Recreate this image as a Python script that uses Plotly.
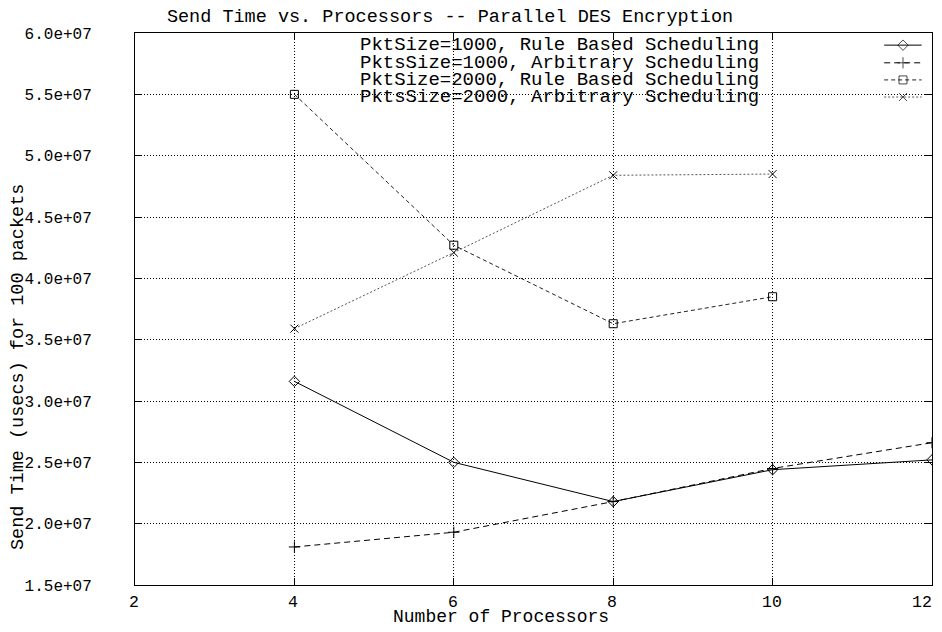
import plotly.graph_objects as go

# ---- data ----
processors = [4, 6, 8, 10, 12]
rule_1000 = [3.16e7, 2.50e7, 2.18e7, 2.44e7, 2.52e7]
arb_1000 = [1.81e7, 1.93e7, 2.18e7, 2.45e7, 2.66e7]
processors_2000 = [4, 6, 8, 10]
rule_2000 = [5.50e7, 4.27e7, 3.63e7, 3.85e7]
arb_2000 = [3.59e7, 4.21e7, 4.84e7, 4.85e7]

series_names = [
    "PktSize=1000, Rule Based Scheduling",
    "PktsSize=1000, Arbitrary Scheduling",
    "PktSize=2000, Rule Based Scheduling",
    "PktsSize=2000, Arbitrary Scheduling",
]

x_ticks = [2, 4, 6, 8, 10, 12]
x_tick_labels = ["2", "4", "6", "8", "10", "12"]
y_ticks = [1.5e7, 2.0e7, 2.5e7, 3.0e7, 3.5e7, 4.0e7, 4.5e7, 5.0e7, 5.5e7, 6.0e7]
y_tick_labels = ["1.5e+07", "2.0e+07", "2.5e+07", "3.0e+07", "3.5e+07",
                 "4.0e+07", "4.5e+07", "5.0e+07", "5.5e+07", "6.0e+07"]

FONT = "Liberation Mono"
W, H = 934, 616          # page body has an 8px margin; keep page from scrolling
L, T, R, B = 127, 25, 10, 39
PW, PH = W - L - R, H - T - B

styles = [
    dict(dash="solid", color="black", symbol="diamond-open"),
    dict(dash="6px,4px", color="black", symbol="cross-thin-open"),
    dict(dash="4px,3px", color="#222222", symbol="square-open"),
    dict(dash="2px,2px", color="#555555", symbol="x-thin-open"),
]
xs = [processors, processors, processors_2000, processors_2000]
ys = [rule_1000, arb_1000, rule_2000, arb_2000]

fig = go.Figure()
for xv, yv, st, nm in zip(xs, ys, styles, series_names):
    fig.add_trace(go.Scatter(
        x=xv, y=yv, mode="lines+markers", name=nm, showlegend=False,
        line=dict(color=st["color"], width=1, dash=st["dash"]),
        marker=dict(symbol=st["symbol"], size=8, color="black",
                    line=dict(color="black", width=1)),
    ))

# gnuplot-style key (text left, sample right) on an overlay axis
key_rows = [0.978, 0.946, 0.915, 0.884]
key_x = [0.940, 0.9636, 0.987]
for row, st, nm in zip(key_rows, styles, series_names):
    fig.add_trace(go.Scatter(
        x=key_x, y=[row] * 3, xaxis="x2", yaxis="y2", mode="lines+markers",
        showlegend=False, hoverinfo="skip",
        line=dict(color=st["color"], width=1, dash=st["dash"]),
        marker=dict(symbol=st["symbol"], size=[0, 8, 0], color="black",
                    line=dict(color="black", width=1)),
    ))
    fig.add_annotation(x=0.785, y=row, xref="x2", yref="y2", text=nm,
                       showarrow=False, xanchor="right", yanchor="middle",
                       font=dict(family=FONT, size=19, color="black"))

axis_common = dict(
    showline=True, linecolor="black", linewidth=1, mirror="allticks",
    ticks="inside", ticklen=7, tickcolor="black",
    showgrid=True, gridcolor="black", gridwidth=1, griddash="1px,2px",
    zeroline=False, automargin=False,
)

fig.update_layout(
    width=W, height=H,
    margin=dict(l=L, r=R, t=T, b=B),
    paper_bgcolor="white", plot_bgcolor="white",
    font=dict(family=FONT, color="black", size=16),
    title=dict(text="Send Time vs. Processors -- Parallel DES Encryption",
               x=442 / W, xanchor="center", xref="container",
               y=1 - 8 / H, yanchor="middle", yref="container",
               font=dict(family=FONT, size=18.5, color="black")),
    xaxis=dict(range=[2, 12], tickvals=x_ticks, showticklabels=False,
               **axis_common),
    yaxis=dict(range=[1.5e7, 6.0e7], tickvals=y_ticks, ticktext=y_tick_labels,
               ticklabelstandoff=39, tickfont=dict(family=FONT, size=16),
               **axis_common),
    xaxis2=dict(range=[0, 1], overlaying="x", visible=False, fixedrange=True),
    yaxis2=dict(range=[0, 1], overlaying="y", visible=False, fixedrange=True),
)

# x tick labels as annotations; the last one is right-anchored so it stays visible
for i, (tv, tl) in enumerate(zip(x_ticks, x_tick_labels)):
    last = i == len(x_ticks) - 1
    fig.add_annotation(x=tv, y=(T + PH - 594) / PH, xref="x", yref="paper",
                       text=tl, showarrow=False,
                       xanchor="right" if last else "center", yanchor="middle",
                       xshift=2 if last else -1,
                       font=dict(family=FONT, size=16.5, color="black"))

fig.add_annotation(text="Number of Processors", x=(493 - L) / PW, y=(T + PH - 609) / PH,
                   xref="paper", yref="paper", showarrow=False,
                   xanchor="center", yanchor="middle",
                   font=dict(family=FONT, size=18, color="black"))
fig.add_annotation(text="Send Time (usecs) for 100 packets", x=(10 - L) / PW,
                   y=(T + PH - 359) / PH, xref="paper", yref="paper", showarrow=False,
                   textangle=-90, xanchor="center", yanchor="middle",
                   font=dict(family=FONT, size=18.5, color="black"))

fig.write_html("out.html")
